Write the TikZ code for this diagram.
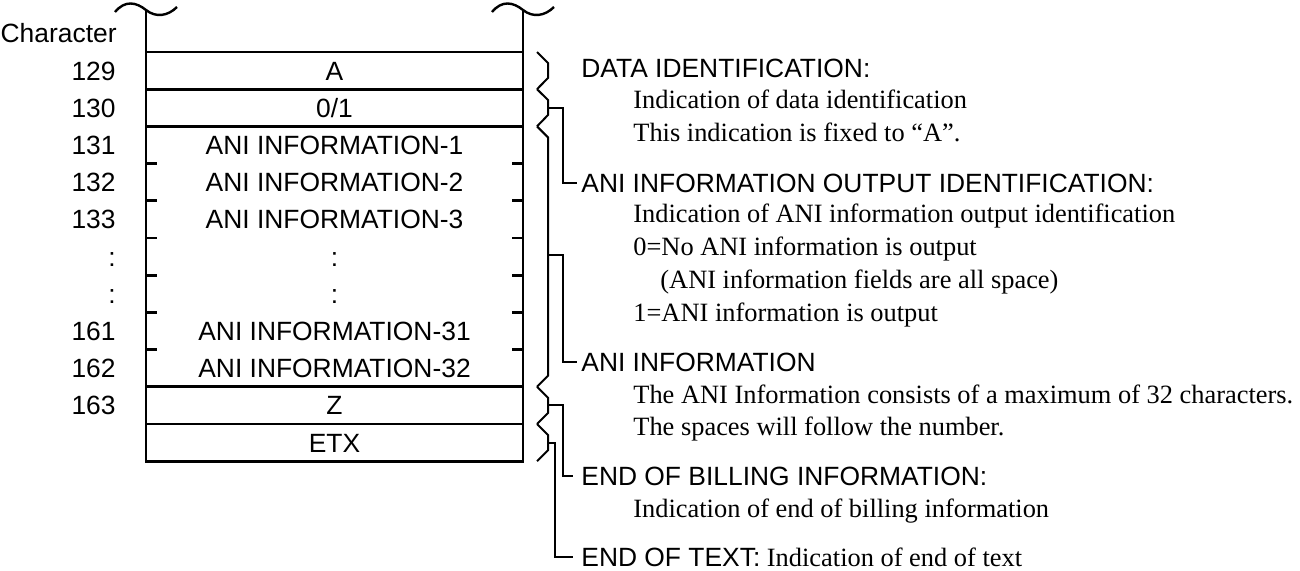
\documentclass[tikz,border=0pt]{standalone}
\usepackage{fontspec}
\setmainfont{Liberation Serif}
\setsansfont{Liberation Sans}
\begin{document}
\begin{tikzpicture}[x=0.5pt,y=-0.5pt,
  boxline/.style={line width=1.4pt},
  thinline/.style={line width=1pt},
  tilde/.style={line width=1.2pt},
  lbl/.style={font=\sffamily\fontsize{13.2}{16}\selectfont, inner sep=0pt, text height=9.45pt, text depth=0pt},
  head/.style={lbl, anchor=west},
  body/.style={font=\rmfamily\fontsize{13.2}{16}\selectfont, inner sep=0pt, anchor=base west}]
\useasboundingbox (0,0) rectangle (1300,571);

% tildes
\draw[tilde] (115,12) .. controls (125,0) and (136,2) .. (146,10) .. controls (156,18) and (168,16) .. (177,7);
\draw[tilde] (492,12) .. controls (502,0) and (513,2) .. (523,10) .. controls (533,18) and (545,16) .. (554,7);

% box outline
\draw[boxline] (146,10) -- (146,461.2) -- (523,461.2) -- (523,10);
\foreach \y in {52,89.2,126.4,386.8,424} \draw[boxline] (146,\y) -- (523,\y);
\foreach \y in {163.6,200.8,238,275.2,312.4,349.6} \draw[boxline] (146,\y) -- (157,\y) (512,\y) -- (523,\y);

% left labels
\node[lbl,anchor=east] (chr) at (117,33) {Character};
\node[lbl,anchor=east] (n129) at (116,70.6) {129};
\node[lbl,anchor=east] (n130) at (116,107.8) {130};
\node[lbl,anchor=east] (n131) at (116,145) {131};
\node[lbl,anchor=east] (n132) at (116,182.2) {132};
\node[lbl,anchor=east] (n133) at (116,219.4) {133};
\node[lbl,anchor=east] (nd1) at (116,256.6) {:};
\node[lbl,anchor=east] (nd2) at (116,293.8) {:};
\node[lbl,anchor=east] (n161) at (116,331) {161};
\node[lbl,anchor=east] (n162) at (116,368.2) {162};
\node[lbl,anchor=east] (n163) at (116,405.4) {163};

% row contents
\node[lbl] (r129) at (334.5,70.6) {A};
\node[lbl] (r130) at (334.5,107.8) {0/1};
\node[lbl] (r131) at (334.5,145) {ANI INFORMATION-1};
\node[lbl] (r132) at (334.5,182.2) {ANI INFORMATION-2};
\node[lbl] (r133) at (334.5,219.4) {ANI INFORMATION-3};
\node[lbl] (rd1) at (334.5,256.6) {:};
\node[lbl] (rd2) at (334.5,293.8) {:};
\node[lbl] (r161) at (334.5,331) {ANI INFORMATION-31};
\node[lbl] (r162) at (334.5,368.2) {ANI INFORMATION-32};
\node[lbl] (r163) at (334.5,405.4) {Z};
\node[lbl] (retx) at (334.5,442.6) {ETX};

% brackets
\draw[thinline] (537,52) -- (548,63) -- (548,78) -- (537,89.2);
\draw[thinline] (537,89.2) -- (548,100) -- (548,115) -- (537,126.4);
\draw[thinline] (537,126.4) -- (548,137.4) -- (548,375.8) -- (537,386.8);
\draw[thinline] (537,386.8) -- (548,397.8) -- (548,413) -- (537,424);
\draw[thinline] (537,424) -- (548,435) -- (548,450.2) -- (537,461.2);
\coordinate (t130) at (548,107.8);
\coordinate (tani) at (548,255);
\coordinate (t163) at (548,405.4);
\coordinate (tetx) at (548,442.6);

% headings
\node[head] (h1) at (581,68) {DATA IDENTIFICATION:};
\node[head] (h2) at (581,183) {ANI INFORMATION OUTPUT IDENTIFICATION:};
\node[head] (h3) at (581,362) {ANI INFORMATION};
\node[head] (h4) at (581,476) {END OF BILLING INFORMATION:};
\node[head] (h5) at (581,557) {END OF TEXT:\rmfamily\ Indication of end of text};

% connectors
\draw[thinline] (t130) -- ++(15,0) |- ([xshift=-2pt]h2.west);
\draw[thinline] (tani) -- ++(15,0) |- ([xshift=-2pt]h3.west);
\draw[thinline] (t163) -- ++(15,0) |- ([xshift=-4pt]h4.west);
\draw[thinline] (tetx) -- ++(7,0) |- ([xshift=-4pt]h5.west);

% body texts
\node[body] (b1) at (633,109) {Indication of data identification};
\node[body] (b2) at (633,142) {This indication is fixed to ``A''.};
\node[body] (b3) at (633,223) {Indication of ANI information output identification};
\node[body] (b4) at (633,256) {0=No ANI information is output};
\node[body] (b5) at (660,289) {(ANI information fields are all space)};
\node[body] (b6) at (633,322) {1=ANI information is output};
\node[body] (b7) at (633,403) {The ANI Information consists of a maximum of 32 characters.};
\node[body] (b8) at (633,436) {The spaces will follow the number.};
\node[body] (b9) at (633,517) {Indication of end of billing information};
\end{tikzpicture}
\end{document}
